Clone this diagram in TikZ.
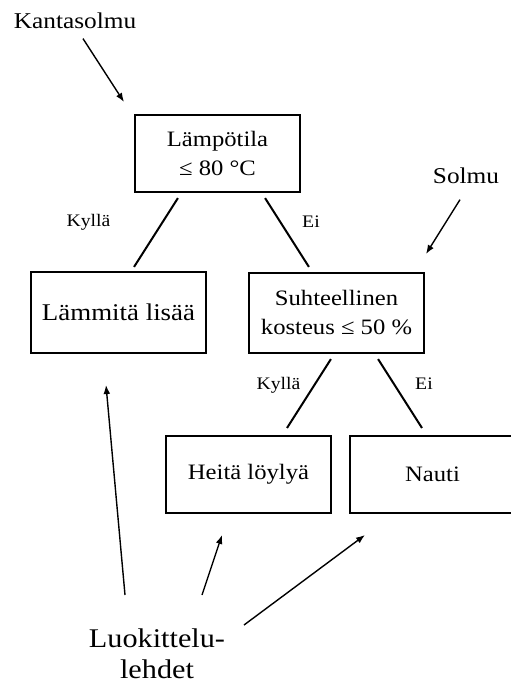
\documentclass[tikz,border=0pt]{standalone}
\usepackage{fontspec}
\setmainfont[FakeStretch=1.12]{Liberation Serif}
\usetikzlibrary{arrows.meta}

\tikzset{
	boxnode/.style={draw, line width=1pt, outer sep=0pt, inner sep=0pt, align=center,
		minimum width=82.5pt, minimum height=38.5pt, font=\fontsize{11}{14.5}\selectfont},
	branch/.style={line width=1pt, shorten <=3.6pt, shorten >=3.6pt},
	answer/.style={anchor=base, inner sep=0pt, font=\fontsize{8.8}{10}\selectfont},
	note/.style={anchor=base, inner sep=0pt, font=\fontsize{11.3}{13}\selectfont},
	pointer/.style={-{Latex[length=4.5pt,width=3.4pt]}, line width=0.7pt},
}

\begin{document}
\begin{tikzpicture}[x=0.5pt, y=-0.5pt]
	\useasboundingbox (0,0) rectangle (510,686);
	
	\node[boxnode] (root) at (217.5,153.5) {Lämpötila\\≤ 80 °C};
	\node[boxnode, minimum width=87.5pt, minimum height=40.5pt, font=\fontsize{12}{14.5}\selectfont] (heat) at (118.5,312.5) {Lämmitä lisää};
	\node[boxnode, minimum width=87.5pt, minimum height=40pt] (humid) at (336.5,313) {Suhteellinen\\kosteus ≤ 50~\%};
	\node[boxnode] (steam) at (248.5,474.5) {Heitä löylyä};
	\node[boxnode] (enjoy) at (432.5,474.5) {Nauti};
	
	\path [branch] ([xshift=-17.85pt]root.south) edge [shorten >=3pt] ([xshift=6.15pt]heat.north);
	\path [branch] ([xshift=21.85pt]root.south) edge ([xshift=-11.85pt]humid.north);
	\path [branch] ([xshift=-0.85pt]humid.south) edge [shorten >=4.75pt] ([xshift=16.7pt]steam.north);
	\path [branch] ([xshift=18.85pt]humid.south) edge [shorten >=4.75pt] ([xshift=-2.7pt]enjoy.north);
	
	\node[answer] (yes1) at (88.5,226) {Kyllä};
	\node[answer] (no1) at (311,227) {Ei};
	\node[answer] (yes2) at (278.5,389) {Kyllä};
	\node[answer] (no2) at (424,389) {Ei};
	
	\node[note] (kanta) at (75,28) {Kantasolmu};
	\node[note] (solmu) at (466,183) {Solmu};
	\node[note, anchor=north, align=center, font=\fontsize{13.5}{15.5}\selectfont] (leaves) at (157,628.6) {Luokittelu-\\lehdet};
	
	\coordinate (kantatip) at (124,102);
	\coordinate (solmutip) at (426,254);
	\coordinate (heattip) at (106,385);
	\coordinate (steamtip) at (222,535);
	\coordinate (enjoytip) at (365,535);
	
	\draw[pointer] ([shift={(4pt,-5pt)}]kanta.south) -- (kantatip);
	\draw[pointer] ([shift={(-3pt,-8pt)}]solmu.south) -- (solmutip);
	\draw[pointer] ([shift={(-16pt,16.8pt)}]leaves.north) -- (heattip);
	\draw[pointer] ([shift={(22.5pt,16.8pt)}]leaves.north) -- (steamtip);
	\draw[pointer] ([shift={(43.5pt,1.8pt)}]leaves.north) -- (enjoytip);
\end{tikzpicture}
\end{document}
